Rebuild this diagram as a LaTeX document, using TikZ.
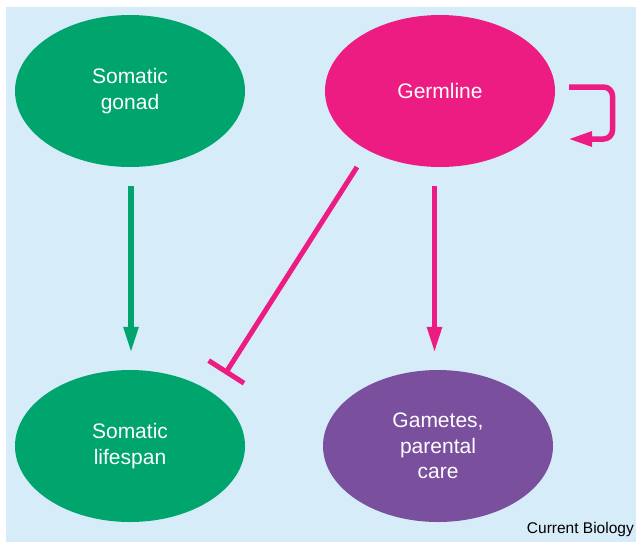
\documentclass[tikz,border=0pt]{standalone}
\usepackage{fontspec}
\setmainfont{Liberation Sans}
\usetikzlibrary{arrows.meta,shapes.geometric}
\definecolor{bgblue}{RGB}{214,236,248}
\definecolor{cbgreen}{RGB}{0,165,110}
\definecolor{cbpink}{RGB}{237,28,130}
\definecolor{cbpurple}{RGB}{122,79,157}
\tikzset{
  blob/.style={ellipse, minimum width=230pt, minimum height=152pt, inner sep=0pt,
    text=white, align=center, font=\fontsize{21}{25.5}\selectfont},
  conn/.style={line width=5.5pt},
  tri/.style={-{Triangle[length=26pt,width=14pt]}},
}
\begin{document}
\begin{tikzpicture}[x=1pt,y=-1pt]
\useasboundingbox (0,0) rectangle (636,542);
\fill[white] (0,0) rectangle (636,542);
\fill[bgblue] (6,7) rectangle (636,542);

\node[blob, fill=cbgreen] (gonad) at (130,91) {Somatic\\gonad};
\node[blob, fill=cbpink] (germ) at (440,91) {Germline};
\node[blob, fill=cbgreen] (life) at (130,446) {Somatic\\lifespan};
\node[blob, fill=cbpurple] (gam) at (438,446) {Gametes,\\parental\\care};

\draw[conn, tri, draw=cbgreen, shorten <=19pt, shorten >=17pt]
  ([xshift=1pt]gonad.south) -- ([xshift=1pt]life.north);
\draw[conn, tri, draw=cbpink, shorten <=19pt, shorten >=17pt]
  ([xshift=-5.5pt]germ.south) -- ([xshift=-3.5pt]gam.north);

\coordinate (inhA) at (357,167);
\coordinate (inhB) at (225,374);
\draw[line width=5pt, draw=cbpink, -{Bar[width=42pt]}] (inhA) -- (inhB);

\coordinate (loopA) at (569,87);
\coordinate (loopB) at (568,139);
\draw[line width=5.5pt, draw=cbpink, -{Triangle[length=24pt,width=14pt]}, rounded corners=9pt]
  (loopA) -- (612.5,87) -- (612.5,139) -- (loopB);

\node[anchor=base east, font=\fontsize{15.5}{18}\selectfont, inner sep=0pt] (cb) at (634,533) {Current Biology};
\end{tikzpicture}
\end{document}
